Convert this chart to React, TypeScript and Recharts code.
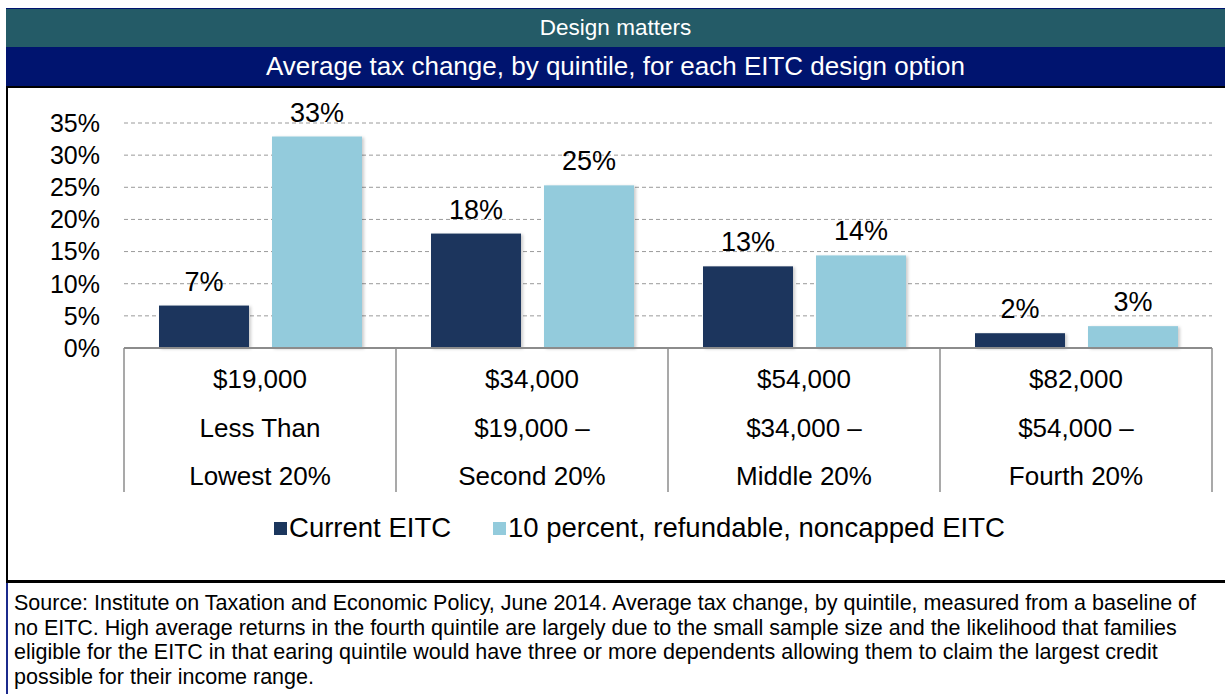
import React from 'react';
import { BarChart, Bar, XAxis, YAxis, CartesianGrid, Legend, LabelList } from 'recharts';

const quintiles = ['Lowest 20%', 'Second 20%', 'Middle 20%', 'Fourth 20%'];
const rangeFrom = ['Less Than', '$19,000 –', '$34,000 –', '$54,000 –'];
const rangeTo = ['$19,000', '$34,000', '$54,000', '$82,000'];
const currentEitc = [6.6, 17.8, 12.7, 2.3];
const refundableEitc = [32.9, 25.3, 14.4, 3.4];
const yTicks = [0, 5, 10, 15, 20, 25, 30, 35];
const seriesNames = ['Current EITC', '10 percent, refundable, noncapped EITC'];

const sourceLines = [
  'Source: Institute on Taxation and Economic Policy, June 2014. Average tax change, by quintile, measured from a baseline of',
  'no EITC. High average returns in the fourth quintile are largely due to the small sample size and the likelihood that families',
  'eligible for the EITC in that earing quintile would have three or more dependents allowing them to claim the largest credit',
  'possible for their income range.',
];

const DARK = '#1b365d';
const LIGHT = '#93cbdc';
const FONT = '"Liberation Sans", Arial, sans-serif';

const data = quintiles.map((q, i) => ({
  quintile: q,
  current: currentEitc[i],
  refundable: refundableEitc[i],
}));

const CategoryTick = (props: any) => {
  const { x, y, payload, index } = props;
  const half = payload && payload.offset ? payload.offset : 136;
  const i = index ?? quintiles.indexOf(payload.value);
  return (
    <g>
      <line x1={x - half} y1={y} x2={x - half} y2={y + 144} stroke="#8c8c8c" strokeWidth={1.5} />
      {i === quintiles.length - 1 && (
        <line x1={x + half} y1={y} x2={x + half} y2={y + 144} stroke="#8c8c8c" strokeWidth={1.5} />
      )}
      <text x={x} y={y + 40} textAnchor="middle" fontSize={26} fill="#000" fontFamily={FONT}>{rangeTo[i]}</text>
      <text x={x} y={y + 89} textAnchor="middle" fontSize={26} fill="#000" fontFamily={FONT}>{rangeFrom[i]}</text>
      <text x={x} y={y + 137} textAnchor="middle" fontSize={26} fill="#000" fontFamily={FONT}>{payload.value}</text>
    </g>
  );
};

const LegendContent = () => (
  <div style={{ display: 'flex', justifyContent: 'center', paddingLeft: 54, fontFamily: FONT, fontSize: 27.5, color: '#000' }}>
    {[DARK, LIGHT].map((c, i) => (
      <div key={i} style={{ display: 'flex', alignItems: 'center', marginRight: i === 0 ? 42 : 0 }}>
        <span style={{ display: 'inline-block', width: 13, height: 13, background: c, marginRight: 2 }} />
        <span>{seriesNames[i]}</span>
      </div>
    ))}
  </div>
);

const ShadowBar = (props: any) => {
  const { x, y, width, height, fill } = props;
  return <rect x={x} y={y} width={width} height={height} fill={fill} filter="url(#barShadow)" />;
};

const pct = (v: any) => `${Math.round(Number(v))}%`;

export default function App() {
  return (
    <div style={{ position: 'absolute', left: 0, top: 0, width: 1225, height: 694, background: '#fff', fontFamily: FONT, overflow: 'hidden' }}>
      <div style={{ position: 'absolute', left: 6, top: 8, width: 1219, height: 1, background: '#00146f' }} />
      <div style={{ position: 'absolute', left: 6, top: 9, width: 1219, height: 38, background: '#245b67', color: '#fff', fontSize: 22.5, display: 'flex', alignItems: 'center', justifyContent: 'center' }}>
        Design matters
      </div>
      <div style={{ position: 'absolute', left: 6, top: 47, width: 1219, height: 39, background: '#00146f', color: '#fff', fontSize: 26, display: 'flex', alignItems: 'center', justifyContent: 'center' }}>
        Average tax change, by quintile, for each EITC design option
      </div>
      <div style={{ position: 'absolute', left: 6, top: 86, width: 1219, height: 2, background: '#000' }} />
      <div style={{ position: 'absolute', left: 6, top: 88, width: 2, height: 493, background: '#000' }} />

      <div style={{ position: 'absolute', left: 0, top: 88 }}>
        <BarChart
          width={1225}
          height={493}
          data={data}
          margin={{ top: 35, right: 13, bottom: 89, left: 0 }}
          barSize={90}
          barGap={23}
        >
          <defs>
            <filter id="barShadow" x="-10%" y="-10%" width="130%" height="130%">
              <feDropShadow dx="2" dy="1" stdDeviation="1.5" floodColor="#000" floodOpacity="0.2" />
            </filter>
          </defs>
          <CartesianGrid vertical={false} stroke="#9a9a9a" strokeDasharray="4 3" />
          <XAxis
            dataKey="quintile"
            height={144}
            tickSize={0}
            tickMargin={0}
            tickLine={false}
            axisLine={{ stroke: '#8c8c8c', strokeWidth: 2 }}
            tick={<CategoryTick />}
            interval={0}
          />
          <YAxis
            width={124}
            domain={[0, 35]}
            ticks={yTicks}
            interval={0}
            tickSize={0}
            tickMargin={24}
            axisLine={false}
            tickLine={false}
            tickFormatter={(v: number) => `${v}%`}
            tick={{ fill: '#000', fontSize: 25, fontFamily: FONT }}
          />
          <Legend
            verticalAlign="middle"
            align="center"
            content={<LegendContent />}
            wrapperStyle={{ top: 424, left: 0, width: 1225 }}
          />
          <Bar dataKey="current" name={seriesNames[0]} fill={DARK} shape={<ShadowBar />} isAnimationActive={false}>
            <LabelList
              dataKey="current"
              position="top"
              offset={15}
              formatter={pct}
              style={{ fill: '#000', fontSize: 27, fontFamily: FONT }}
            />
          </Bar>
          <Bar dataKey="refundable" name={seriesNames[1]} fill={LIGHT} shape={<ShadowBar />} isAnimationActive={false}>
            <LabelList
              dataKey="refundable"
              position="top"
              offset={15}
              formatter={pct}
              style={{ fill: '#000', fontSize: 27, fontFamily: FONT }}
            />
          </Bar>
        </BarChart>
      </div>

      <div style={{ position: 'absolute', left: 6, top: 580, width: 1219, height: 3, background: '#000' }} />
      <div style={{ position: 'absolute', left: 6, top: 583, width: 2, height: 111, background: '#1b2a8c' }} />
      <div style={{ position: 'absolute', left: 14, top: 591, fontSize: 21.5, lineHeight: '24.5px', color: '#000', whiteSpace: 'nowrap' }}>
        {sourceLines.map((l, i) => (
          <div key={i}>{l}</div>
        ))}
      </div>
    </div>
  );
}
